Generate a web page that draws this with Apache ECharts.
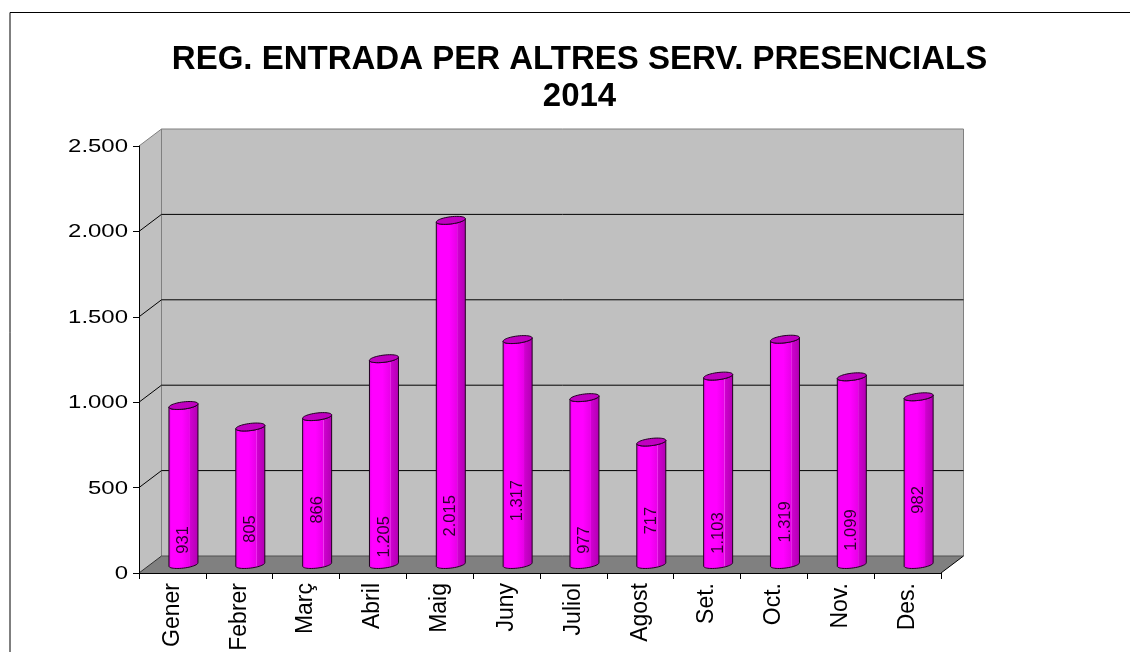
<!DOCTYPE html>
<html><head><meta charset="utf-8">
<style>html,body{margin:0;padding:0;background:#fff}#c{width:1130px;height:652px}</style>
<script src="https://cdn.jsdelivr.net/npm/echarts@6/dist/echarts.min.js"></script>
</head><body><div id="c"></div>
<script>
const titleLines = ['REG. ENTRADA PER ALTRES SERV. PRESENCIALS', '2014'];
const categories = ['Gener','Febrer','Març','Abril','Maig','Juny','Juliol','Agost','Set.','Oct.','Nov.','Des.'];
const values = [931,805,866,1205,2015,1317,977,717,1103,1319,1099,982];
const valueLabels = ['931','805','866','1.205','2.015','1.317','977','717','1.103','1.319','1.099','982'];
const yTicks = [0,500,1000,1500,2000,2500];
const yTickLabels = ['0','500','1.000','1.500','2.000','2.500'];
// height (in axis units) of the middle of each rotated value label
const labelHeights = [144,208,320,162,285,374,143,257,184,249,202,378];

const DX = 22.5, DY = -17;         // 3D depth of the plot box
const chart = echarts.init(document.getElementById('c'), null, {renderer:'canvas'});

function poly(points, style, z2){ return {type:'polygon', shape:{points}, style, z2}; }
function line(x1,y1,x2,y2,stroke){ return {type:'line', shape:{x1,y1,x2,y2}, style:{stroke, lineWidth:1}}; }

function renderWalls(params, api){
  const o = api.coord([0,0]), t = api.coord([0,2500]), band = api.size([1,0])[0];
  const xL = o[0]-band/2, xR = xL+band*12, yB = o[1], yT = t[1];
  const wall = '#c0c0c0', edge = '#808080';
  return {type:'group', children:[
    poly([[xL,yB],[xL,yT],[xL+DX,yT+DY],[xL+DX,yB+DY]], {fill:wall}),
    poly([[xL+DX,yB+DY],[xL+DX,yT+DY],[xR+DX,yT+DY],[xR+DX,yB+DY]], {fill:wall}),
    poly([[xL,yB],[xL+DX,yB+DY],[xR+DX,yB+DY],[xR,yB]], {fill:edge}),
    line(xL,yT,xL+DX,yT+DY,edge),
    line(xL+DX,yT+DY,xR+DX,yT+DY,edge),
    line(xL+DX,yT+DY,xL+DX,yB+DY,edge),
    line(xR+DX,yT+DY,xR+DX,yB+DY,edge),
    line(xL+DX,yB+DY,xR+DX,yB+DY,'#505050'),
    line(xL,yB,xL+DX,yB+DY,'#303030'),
    line(xR,yB,xR+DX,yB+DY,'#000')
  ]};
}
function renderGrid(params, api){
  const v = api.value(0);
  if (v===0 || v===2500) return null;
  const o = api.coord([0,v]), band = api.size([1,0])[0];
  const xL = o[0]-band/2, xR = xL+band*12, y = o[1];
  return {type:'group', children:[
    line(xL,y,xL+DX,y+DY,'#000'),
    line(xL+DX,y+DY,xR+DX,y+DY,'#000')
  ]};
}
function ellipsePts(cx,cy,a,b,tilt,t0,t1,n){
  const p=[];
  for(let i=0;i<=n;i++){
    const t=t0+(t1-t0)*i/n;
    p.push([cx+a*Math.cos(t), cy+b*Math.sin(t)-tilt*Math.cos(t)]);
  }
  return p;
}
function renderBar(params, api){
  const c = api.value(0), v = api.value(1), lh = api.value(2);
  const b = api.coord([c,0]), t = api.coord([c,v]), m = api.coord([c,lh]);
  const cx = b[0]+DX/2-0.2, by = b[1]+DY/2, ty = t[1]+DY/2, my = m[1]+DY/2;
  const a = 14.5, eb = 3.6, tilt = 1.7;
  const body = [].concat(
    ellipsePts(cx,by,a,eb,tilt,Math.PI,0,24),
    ellipsePts(cx,ty,a,eb,tilt,0,Math.PI,24)
  );
  const grad = new echarts.graphic.LinearGradient(0,0,1,0,[
    {offset:0,color:'#e000e0'},{offset:0.1,color:'#ff00ff'},{offset:0.45,color:'#ff00ff'},
    {offset:0.7,color:'#e800e8'},{offset:0.71,color:'#f040f0'},{offset:0.73,color:'#d000d0'},{offset:1,color:'#b000b0'}
  ]);
  return {type:'group', children:[
    {type:'polygon', shape:{points:body}, style:{fill:grad, stroke:'#200020', lineWidth:1}},
    {type:'polygon', shape:{points:ellipsePts(cx,ty,a,eb,tilt,0,Math.PI*2,48)}, style:{fill:'#c000c0', stroke:'#200020', lineWidth:1}},
    {type:'text', x:cx, y:my, rotation:Math.PI/2,
      style:{text:valueLabels[params.dataIndex], fill:'#300030', font:'16.5px "Liberation Sans"', align:'center', verticalAlign:'middle'}}
  ]};
}
function renderYLabel(params, api){
  const v = api.value(0), p = api.coord([0,v]), band = api.size([1,0])[0];
  return {type:'text', x:p[0]-band/2-11, y:p[1]+1, scaleX:1.33,
    style:{text:yTickLabels[params.dataIndex], fill:'#000', font:'18px "Liberation Sans"', align:'right', verticalAlign:'middle'}};
}

chart.setOption({
  animation:false,
  backgroundColor:'#fff',
  title:{text:titleLines.join('\n'), left:574.5, top:36, textAlign:'center',
    textStyle:{fontFamily:'Liberation Sans', fontWeight:'bold', fontSize:33, color:'#000', lineHeight:37}},
  graphic:[
    {type:'line', shape:{x1:10,y1:12.5,x2:1130,y2:12.5}, style:{stroke:'#000',lineWidth:1}},
    {type:'line', shape:{x1:10,y1:12.5,x2:10,y2:652}, style:{stroke:'#000',lineWidth:1}}
  ],
  grid:{left:139, width:802, top:146, height:427, containLabel:false, outerBoundsMode:'none'},
  xAxis:{type:'category', data:categories, boundaryGap:true,
    axisLine:{show:true,lineStyle:{color:'#000',width:1}},
    axisTick:{show:true,alignWithLabel:false,length:6,lineStyle:{color:'#000',width:1}},
    axisLabel:{show:true,rotate:90,interval:0,margin:10,fontFamily:'Liberation Sans',fontSize:23,color:'#000'},
    splitLine:{show:false}, z:5},
  yAxis:{type:'value', min:0, max:2500, interval:500,
    axisLine:{show:true,lineStyle:{color:'#000',width:1}},
    axisTick:{show:true,length:6,lineStyle:{color:'#000',width:1}},
    axisLabel:{show:false}, splitLine:{show:false}, z:5},
  series:[
    {type:'custom', name:'walls', coordinateSystem:'cartesian2d', z:1, silent:true, clip:false, data:[[0]], renderItem:renderWalls, encode:{y:0}},
    {type:'custom', name:'grid', coordinateSystem:'cartesian2d', z:2, silent:true, clip:false, data:yTicks.map(v=>[v]), renderItem:renderGrid, encode:{y:0}},
    {type:'custom', name:'ylabels', coordinateSystem:'cartesian2d', z:6, silent:true, clip:false, data:yTicks.map(v=>[v]), renderItem:renderYLabel, encode:{y:0}},
    {type:'custom', name:'Registres', coordinateSystem:'cartesian2d', z:3, clip:false,
      data:values.map((v,i)=>[i,v,labelHeights[i]]), renderItem:renderBar, encode:{x:0,y:1}}
  ]
});
</script></body></html>
